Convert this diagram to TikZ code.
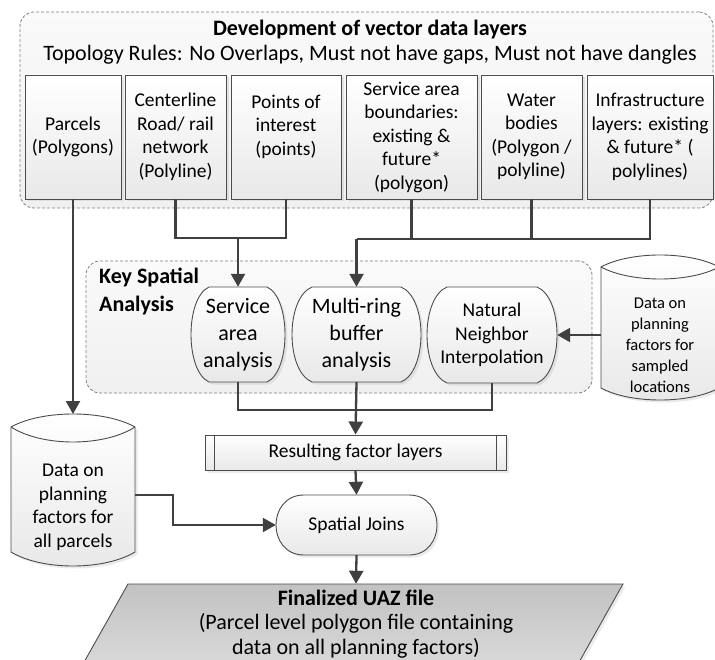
\documentclass[tikz,border=0pt]{standalone}
\usepackage{fontspec}
\setmainfont{Carlito}
\usetikzlibrary{arrows.meta,shadows}
\newcommand\termshape[6]{%
 \path[shapeline, boxfill, sh] (#1+#5,#2) -- (#3-#5,#2) .. controls ({#3+#5/3},{#2+#6}) and ({#3+#5/3},{#4-#6}) .. (#3-#5,#4) -- (#1+#5,#4) .. controls ({#1-#5/3},{#4-#6}) and ({#1-#5/3},{#2+#6}) .. (#1+#5,#2) -- cycle;}
\newcommand\cylshape[7]{%
 \path[shapeline, boxfill, sh] (#1,#3) .. controls ({#1+(#2-#1)/4},{#3-4*#4/3}) and ({#2-(#2-#1)/4},{#3-4*#4/3}) .. (#2,#3) -- (#2,#6) .. controls ({#2-(#2-#1)/4},{#6+4*#7/3}) and ({#1+(#2-#1)/4},{#6+4*#7/3}) .. (#1,#6) -- cycle;
 \draw[shapeline] (#1,#3) .. controls ({#1+(#2-#1)/4},{#3+4*#5/3}) and ({#2-(#2-#1)/4},{#3+4*#5/3}) .. (#2,#3);}
\begin{document}
\begin{tikzpicture}[x=1pt,y=-1pt,
  conn/.style={draw=black!75, line width=2.3pt, -{Triangle[length=13pt,width=14pt]}},
  wire/.style={draw=black!75, line width=2.3pt},
  container/.style={draw=black!50, dash pattern=on 3pt off 2pt, rounded corners=14pt, top color=black!2, bottom color=black!6, line width=0.8pt, inner sep=0pt},
  boxfill/.style={top color=white, bottom color=black!9},
  shapeline/.style={draw=black!70, line width=0.9pt},
  sh/.style={drop shadow={shadow xshift=2.5pt, shadow yshift=-2.5pt, opacity=0.2, fill=black!40}},
  txt/.style={inner sep=0pt, align=center, font=\fontsize{19.5}{23.5}\selectfont},
  bigtxt/.style={inner sep=0pt, align=center, font=\fontsize{22}{27}\selectfont},
  layerbox/.style={shapeline, boxfill, sh, txt, minimum height=124},
]
\useasboundingbox (0,0) rectangle (715,660);
\fill[white] (0,0) rectangle (715,660);

% containers
\node[container, minimum width=693, minimum height=196] (dev) at (366.5,110) {};
\node[container, minimum width=506, minimum height=132] (ksa) at (339,327) {};

% titles
\node[bigtxt, font=\fontsize{22}{26}\selectfont\bfseries] (devtitle) at (370,30) {Development of vector data layers};
\node[bigtxt] (rules) at (370,55) {Topology Rules: No Overlaps, Must not have gaps, Must not have dangles};
\node[bigtxt, font=\fontsize{22}{28}\selectfont\bfseries, align=left, anchor=west] (ksatitle) at (99,291) {Key Spatial\\Analysis};

% data layers
\node[layerbox, minimum width=96] (b1) at (73,137) {Parcels\\(Polygons)};
\node[layerbox, minimum width=101] (b2) at (175.5,137) {Centerline\\Road/ rail\\network\\(Polyline)};
\node[layerbox, minimum width=110] (b3) at (286,137) {Points of\\interest\\(points)\\\mbox{}};
\node[layerbox, minimum width=131] (b4) at (411.5,137) {Service area\\boundaries:\\existing \&\\future*\\(polygon)};
\node[layerbox, minimum width=101] (b5) at (531.5,137) {Water\\bodies\\(Polygon /\\polyline)};
\node[layerbox, minimum width=126] (b6) at (650,137) {Infrastructure\\layers: existing\\\& future* (\\polylines)};

% analysis shapes
\termshape{191}{287}{285}{382}{18}{11}
\termshape{292}{287}{421}{382}{20}{11}
\termshape{427}{287}{557}{383}{20}{11}
\termshape{276}{495}{437}{555}{28}{0}
\node[bigtxt, minimum width=94, minimum height=95] (sa) at (238,334.5) {Service\\area\\analysis};
\node[bigtxt, minimum width=129, minimum height=95] (mr) at (356.5,334.5) {Multi-ring\\buffer\\analysis};
\node[txt, minimum width=130, minimum height=96] (nn) at (492,335) {Natural\\Neighbor\\Interpolation};
\node[txt, minimum width=161, minimum height=60] (sj) at (356.5,525) {Spatial Joins};

% resulting factor layers
\node[shapeline, boxfill, sh, txt, minimum width=301, minimum height=35] (res) at (355.5,452.5) {Resulting factor layers};
\draw[shapeline] ([xshift=10pt]res.north west) -- ([xshift=10pt]res.south west);
\draw[shapeline] ([xshift=-10pt]res.north east) -- ([xshift=-10pt]res.south east);

% cylinders
\cylshape{11}{135}{427}{13}{15}{552}{14}
\cylshape{601}{719}{267}{12}{12}{388}{12}
\node[txt] (cylL) at (73,507.5) {Data on\\planning\\factors for\\all parcels};
\node[inner sep=0pt, align=center, font=\fontsize{16.5}{21}\selectfont] (cylR) at (660,345) {Data on\\planning\\factors for\\sampled\\locations};
\coordinate (cylLtop) at (73,414);
\coordinate (cylLout) at (135,495);
\coordinate (cylRout) at (601,335);

% final output
\path[shapeline, top color=black!24, bottom color=black!15, sh] (128,584) -- (623,584) -- (578,664) -- (83,664) -- cycle;
\node[inner sep=0pt, align=center, minimum height=80, font=\fontsize{22}{24.5}\selectfont] (fin) at (356,624) {\textbf{Finalized UAZ file}\\(Parcel level polygon file containing\\data on all planning factors)};

% connectors
\path (sa.north) ++(0,-49) coordinate (j1);
\path (mr.north) ++(0,-48) coordinate (j2);
\path (mr.south) ++(0,28) coordinate (j3);
\draw[conn] (b1.south) -- (cylLtop);
\draw[wire] (b2.south) -- (b2.south |- j1) -- (b3.south |- j1) -- (b3.south);
\draw[conn] (j1) -- (sa.north);
\draw[wire] (j2) -- (b6.south |- j2) -- (b6.south);
\draw[wire] (b4.south) -- (b4.south |- j2);
\draw[wire] (b5.south) -- (b5.south |- j2);
\draw[conn] (j2) -- (mr.north);
\draw[conn] (cylRout) -- (nn.east);
\draw[wire] (sa.south) -- (sa.south |- j3) -- (nn.south |- j3) -- (nn.south);
\draw[conn] (mr.south) -- (res.north);
\draw[conn] (res.south) -- (sj.north);
\draw[conn] (cylLout) -- ++(38,0) |- (sj.west);
\draw[conn] (sj.south) -- (fin.north);
\end{tikzpicture}
\end{document}
